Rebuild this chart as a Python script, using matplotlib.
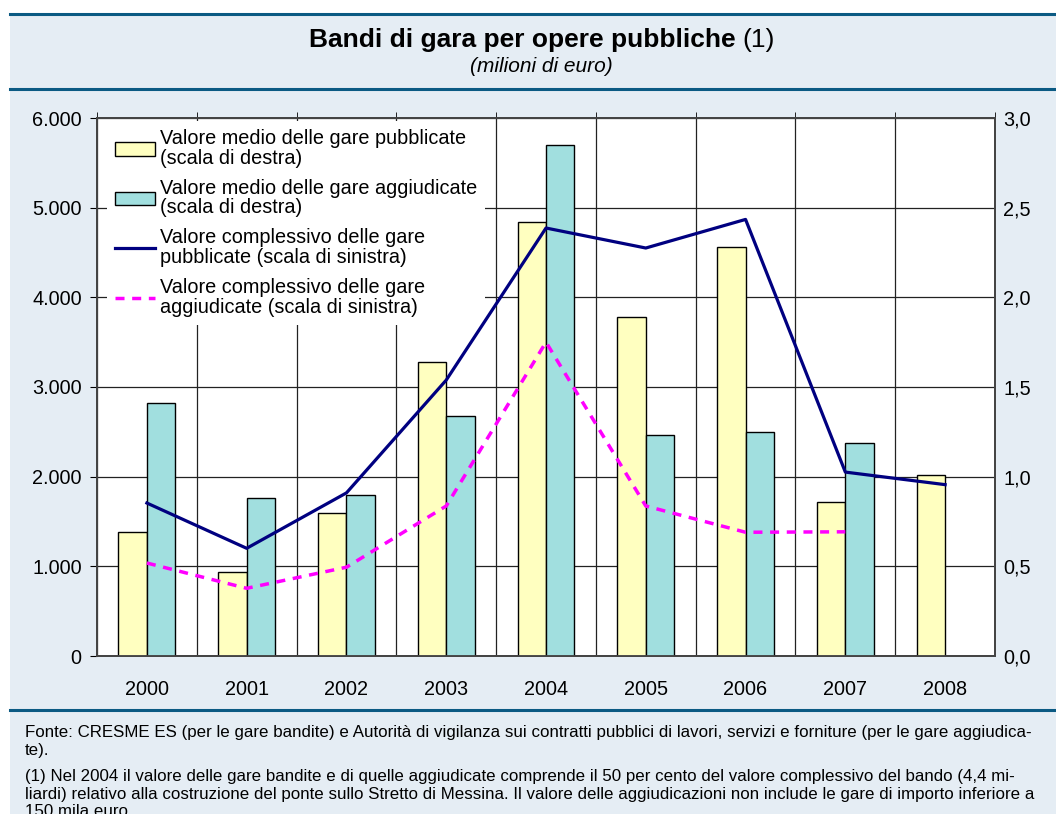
import numpy as np
import matplotlib
matplotlib.use('Agg')
import matplotlib.pyplot as plt
from matplotlib.patches import Rectangle
from matplotlib.lines import Line2D
from matplotlib import font_manager

# dati
anni = ['2000', '2001', '2002', '2003', '2004', '2005', '2006', '2007', '2008']
# valore medio (scala di destra)
medio_pubblicate = [0.69, 0.47, 0.80, 1.64, 2.42, 1.89, 2.28, 0.86, 1.01]
medio_aggiudicate = [1.41, 0.88, 0.90, 1.34, 2.85, 1.23, 1.25, 1.19, np.nan]
# valore complessivo (scala di sinistra)
compl_pubblicate = [1706, 1201, 1819, 3077, 4773, 4550, 4869, 2051, 1911]
compl_aggiudicate = [1037, 755, 990, 1673, 3500, 1673, 1380, 1385, np.nan]

sx_ticks = [0, 1000, 2000, 3000, 4000, 5000, 6000]
sx_labels = ['0', '1.000', '2.000', '3.000', '4.000', '5.000', '6.000']
dx_ticks = [0, 0.5, 1.0, 1.5, 2.0, 2.5, 3.0]
dx_labels = ['0,0', '0,5', '1,0', '1,5', '2,0', '2,5', '3,0']

names = {f.name for f in font_manager.fontManager.ttflist}
narrow = 'Liberation Sans Narrow' if 'Liberation Sans Narrow' in names else 'Liberation Sans'
plt.rcParams['font.family'] = ['Liberation Sans', 'DejaVu Sans']

W, H = 1056, 814
fig = plt.figure(figsize=(W / 100, H / 100), dpi=100)
blu = '#0b5a83'
sfondo = '#e5edf4'


def fy(py):
    return 1 - py / H


# sfondo e linee di separazione
fig.patches.append(Rectangle((10 / W, 0), 1, fy(15), transform=fig.transFigure,
                             facecolor=sfondo, edgecolor='none', zorder=-5))
for py in [14, 89, 710]:
    fig.add_artist(Line2D([10 / W, 1], [fy(py), fy(py)], color=blu, lw=2.2))

fig.text(1052 / W, fy(-5), 'Figura 1', ha='right', va='baseline', fontsize=12,
         fontweight='bold', color=blu)

# titolo
fig.text(736 / W, fy(40), 'Bandi di gara per opere pubbliche', ha='right', va='center',
         fontsize=19, fontweight='bold')
fig.text(742 / W, fy(40), '(1)', ha='left', va='center', fontsize=19)
fig.text(541 / W, fy(66), '(milioni di euro)', ha='center', va='center', fontsize=15,
         style='italic')

# assi
pos = [97 / W, fy(656), (995 - 97) / W, (656 - 118) / H]
ax2 = fig.add_axes(pos)
ax = ax2.twinx()
ax2.yaxis.tick_right()
ax.yaxis.tick_left()

x = np.arange(len(anni))
w = 0.285
ax2.bar(x - w / 2, medio_pubblicate, w, color='#ffffc0', edgecolor='black', lw=1.0,
        label='Valore medio delle gare pubblicate\n(scala di destra)', zorder=3)
ax2.bar(x + w / 2, medio_aggiudicate, w, color='#a1dfdf', edgecolor='black', lw=1.0,
        label='Valore medio delle gare aggiudicate\n(scala di destra)', zorder=3)
ax2.set_ylim(0, 3)
ax2.set_yticks(dx_ticks)
ax2.set_yticklabels(dx_labels)
ax2.set_xlim(-0.5, 8.5)
ax2.set_xticks(x)
ax2.set_xticklabels(anni)
ax2.set_xticks(np.arange(-0.5, 9), minor=True)
ax2.grid(True, axis='y', color='#222222', lw=0.9, zorder=0)
ax2.grid(True, axis='x', which='minor', color='#222222', lw=0.9, zorder=0)
ax2.set_axisbelow(True)
ax2.tick_params(axis='x', which='major', length=0, pad=17, labelsize=14.3)
ax2.tick_params(axis='x', which='minor', length=4, top=True, bottom=False, direction='out')
ax2.tick_params(axis='y', length=0, pad=6, labelsize=14.3, right=True, left=False,
                labelright=True, labelleft=False)

ax.plot(x, compl_pubblicate, color='#000080', lw=2.3,
        label='Valore complessivo delle gare\npubblicate (scala di sinistra)', zorder=4)
ax.plot(x, compl_aggiudicate, color='#ff00ff', lw=2.5, dashes=(2.6, 2.2),
        label='Valore complessivo delle gare\naggiudicate (scala di sinistra)', zorder=4)
ax.set_ylim(0, 6000)
ax.set_yticks(sx_ticks)
ax.set_yticklabels(sx_labels)
ax.tick_params(axis='y', length=5, direction='out', pad=6, labelsize=14.3,
               left=True, right=False, labelleft=True, labelright=False)

for a in (ax, ax2):
    for s in a.spines.values():
        s.set_color('#444444')
        s.set_linewidth(1.3)

h1, l1 = ax2.get_legend_handles_labels()
h2, l2 = ax.get_legend_handles_labels()
leg = ax.legend(h1 + h2, l1 + l2, loc='upper left', bbox_to_anchor=(0.008, 1.0),
                fontsize=14.3, frameon=True, fancybox=False, facecolor='white',
                edgecolor='none', framealpha=1, borderaxespad=0.15, borderpad=0.4,
                handlelength=2.0, handletextpad=0.25, labelspacing=0.55)
for t in leg.get_texts():
    t.set_linespacing(1.05)
# le linee restano sopra il riquadro della legenda
leg.set_zorder(3.5)

# note
note = [
    (732, 'Fonte: CRESME ES (per le gare bandite) e Autorità di vigilanza sui contratti pubblici di lavori, servizi e forniture (per le gare aggiudica-'),
    (750, 'te).'),
    (776, '(1) Nel 2004 il valore delle gare bandite e di quelle aggiudicate comprende il 50 per cento del valore complessivo del bando (4,4 mi-'),
    (794, 'liardi) relativo alla costruzione del ponte sullo Stretto di Messina. Il valore delle aggiudicazioni non include le gare di importo inferiore a'),
    (812, '150 mila euro.'),
]
for py, t in note:
    fig.text(25 / W, fy(py), t, ha='left', va='center', fontsize=12.2, family=narrow)

fig.savefig('out.png', dpi=100)
